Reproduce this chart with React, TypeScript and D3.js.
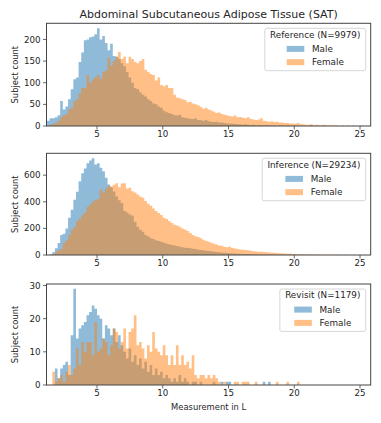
import React from "react";
import * as d3 from "d3";

// Histogram bins: left edge of bin i = BIN_START + i * BIN_WIDTH (litres)
const BIN_START = 1.2;
const BIN_WIDTH = 0.2;

const refMale = [
  12, 18, 18, 20, 25, 58, 38, 45, 62, 85,
  108, 112, 148, 170, 198, 200, 205, 207, 212, 226,
  200, 208, 192, 175, 190, 162, 160, 155, 145, 138,
  125, 112, 100, 88, 85, 78, 72, 68, 62, 58,
  52, 50, 45, 42, 35, 32, 30, 28, 25, 24,
  26, 20, 19, 18, 17, 16, 18, 14, 13, 12,
  14, 11, 10, 9, 10, 8, 8, 7, 6, 6,
  5, 5, 4, 4, 3, 4, 3, 2, 3, 2,
  2, 2, 1, 2, 1, 1, 1, 0, 1, 1,
  0, 1, 0, 0, 1, 0, 0, 0, 0, 0,
  1, 0, 0, 0, 0, 0, 0, 0, 0, 0,
  0, 0, 0, 0, 0, 0, 0, 0, 0, 0,
];
const refFemale = [
  0, 3, 5, 7, 12, 20, 25, 28, 38, 42,
  58, 62, 75, 88, 88, 118, 100, 108, 112, 118,
  110, 125, 128, 157, 140, 150, 160, 171, 155, 160,
  145, 160, 155, 148, 145, 150, 155, 130, 125, 120,
  118, 105, 112, 95, 92, 95, 88, 88, 72, 66,
  64, 62, 60, 55, 56, 52, 50, 48, 44, 40,
  42, 38, 36, 33, 30, 31, 28, 26, 25, 23,
  22, 24, 20, 21, 19, 18, 20, 16, 15, 14,
  15, 18, 12, 11, 10, 11, 9, 10, 8, 8,
  7, 7, 6, 6, 5, 7, 4, 4, 3, 3,
  4, 2, 3, 2, 2, 3, 1, 2, 1, 1,
  1, 0, 1, 0, 1, 0, 1, 0, 0, 1,
];
const infMale = [
  0, 5, 20, 50, 90, 150, 160, 200, 280, 340,
  415, 475, 555, 615, 650, 690, 710, 728, 680, 690,
  655, 630, 580, 530, 510, 477, 440, 412, 390, 330,
  320, 305, 295, 250, 212, 190, 175, 150, 140, 125,
  120, 110, 105, 100, 92, 85, 80, 75, 72, 68,
  62, 58, 55, 52, 50, 47, 45, 40, 37, 35,
  32, 30, 28, 25, 22, 20, 18, 17, 15, 14,
  12, 11, 10, 9, 8, 7, 7, 6, 5, 5,
  4, 4, 3, 3, 3, 2, 2, 2, 1, 1,
  1, 1, 1, 0, 1, 0, 1, 0, 0, 0,
  0, 0, 0, 0, 0, 0, 0, 0, 0, 0,
  0, 0, 0, 0, 0, 0, 0, 0, 0, 0,
];
const infFemale = [
  0, 2, 8, 20, 35, 45, 90, 110, 150, 190,
  210, 255, 270, 300, 320, 360, 380, 400, 415, 420,
  490, 470, 500, 520, 515, 528, 540, 510, 538, 540,
  500, 505, 480, 470, 455, 440, 430, 405, 385, 370,
  350, 330, 315, 300, 280, 270, 255, 240, 228, 222,
  212, 200, 192, 180, 165, 150, 140, 135, 125, 115,
  105, 100, 92, 85, 78, 72, 70, 60, 58, 62,
  52, 48, 45, 42, 40, 37, 35, 32, 28, 27,
  25, 24, 22, 20, 18, 17, 16, 14, 13, 12,
  11, 10, 9, 8, 7, 6, 6, 5, 4, 4,
  3, 3, 3, 2, 2, 2, 2, 1, 1, 1,
  1, 1, 0, 1, 0, 0, 0, 0, 0, 0,
];
const revMale = [
  0, 0, 0, 5, 2, 5, 6, 7, 3, 15,
  29, 14, 17, 18, 19, 21, 22, 24, 23, 21,
  20, 14, 18, 17, 15, 17, 13, 15, 12, 10,
  8, 11, 7, 9, 6, 8, 5, 7, 4, 6,
  3, 5, 3, 4, 2, 3, 2, 1, 2, 1,
  3, 1, 2, 1, 0, 1, 1, 0, 1, 0,
  0, 0, 0, 1, 0, 0, 1, 0, 1, 1,
  0, 0, 0, 0, 0, 0, 0, 0, 0, 0,
  0, 0, 1, 0, 1, 0, 0, 0, 0, 0,
  0, 0, 0, 0, 0, 0, 0, 0, 0, 0,
  0, 0, 0, 0, 0, 0, 0, 0, 0, 0,
  0, 0, 0, 0, 0, 0, 0, 0, 0, 0,
];
const revFemale = [
  0, 0, 4, 1, 2, 3, 1, 4, 6, 3,
  5, 11, 6, 13, 10, 13, 13, 9, 19, 10,
  11, 14, 13, 9, 12, 17, 16, 11, 13, 17,
  11, 16, 17, 21, 12, 13, 11, 8, 12, 10,
  16, 11, 10, 9, 12, 9, 6, 9, 6, 12,
  6, 9, 6, 7, 5, 9, 3, 2, 3, 3,
  2, 3, 2, 3, 2, 1, 0, 1, 0, 0,
  0, 1, 1, 0, 1, 1, 1, 0, 0, 1,
  0, 0, 0, 0, 0, 0, 0, 1, 0, 0,
  0, 1, 0, 0, 0, 1, 0, 0, 0, 0,
  0, 0, 0, 0, 0, 0, 0, 0, 0, 0,
  0, 0, 0, 0, 0, 0, 0, 0, 0, 0,
];

const xTicks = [5, 10, 15, 20, 25];
const refTicks = [0, 50, 100, 150, 200];
const infTicks = [0, 200, 400, 600];
const revTicks = [0, 10, 20, 30];
const legendTitles = ["Reference (N=9979)", "Inference (N=29234)", "Revisit (N=1179)"];
const seriesNames = ["Male", "Female"];
const chartTitle = "Abdominal Subcutaneous Adipose Tissue (SAT)";
const xLabel = "Measurement in L";
const yLabel = "Subject count";

const W = 381;
const H = 423;
const LEFT = 46.5;
const RIGHT = 370.7;
const FONT = "DejaVu Sans";
const TEXT = "#262626";
const SPINE = "#444";
const BLUE = "#1f77b4";
const ORANGE = "#ff7f0e";

const panels = [
  { male: refMale, female: refFemale, ticks: refTicks, legend: legendTitles[0], top: 23.3, bottom: 126 },
  { male: infMale, female: infFemale, ticks: infTicks, legend: legendTitles[1], top: 153.3, bottom: 255 },
  { male: revMale, female: revFemale, ticks: revTicks, legend: legendTitles[2], top: 284, bottom: 385 },
];

let ctx: CanvasRenderingContext2D | null = null;
function measure(text: string, size: number): number {
  if (!ctx) ctx = document.createElement("canvas").getContext("2d");
  if (!ctx) return text.length * size * 0.6;
  ctx.font = `${size}px "${FONT}"`;
  return ctx.measureText(text).width;
}

const x = d3.scaleLinear().domain([1.16, 25.81]).range([LEFT, RIGHT]);

function histPath(values: number[], y: d3.ScaleLinear<number, number>) {
  const pts: [number, number][] = [];
  values.forEach((v, i) => {
    pts.push([BIN_START + i * BIN_WIDTH, v]);
    pts.push([BIN_START + (i + 1) * BIN_WIDTH, v]);
  });
  return d3
    .area<[number, number]>()
    .x((d) => x(d[0]))
    .y0(y(0))
    .y1((d) => y(d[1]))(pts) as string;
}

function Panel({ p, idx, last }: { p: (typeof panels)[number]; idx: number; last: boolean }) {
  const ymax = (d3.max([...p.male, ...p.female]) as number) * 1.05;
  const y = d3.scaleLinear().domain([0, ymax]).range([p.bottom, p.top]);
  const clipId = `clip${idx}`;
  const legFont = 8.8;
  const titleW = measure(p.legend, legFont);
  const boxW = titleW + 10.6;
  const boxX = RIGHT - 5 - boxW;
  const boxY = p.top + 5;
  const handleW = 17.6 + 7.7 + measure(seriesNames[1], legFont);
  const handleX = boxX + boxW / 2 - handleW / 2;
  return (
    <g>
      <defs>
        <clipPath id={clipId}>
          <rect x={LEFT} y={p.top} width={RIGHT - LEFT} height={p.bottom - p.top} />
        </clipPath>
      </defs>
      <g clipPath={`url(#${clipId})`}>
        <path d={histPath(p.male, y)} fill={BLUE} fillOpacity={0.5} />
        <path d={histPath(p.female, y)} fill={ORANGE} fillOpacity={0.5} />
      </g>
      <rect x={LEFT} y={p.top} width={RIGHT - LEFT} height={p.bottom - p.top} fill="none" stroke={SPINE} strokeWidth={1} />
      {xTicks.map((t) => (
        <g key={t}>
          <line x1={x(t)} x2={x(t)} y1={p.bottom} y2={p.bottom + 3.5} stroke={SPINE} strokeWidth={0.8} />
          <text x={x(t)} y={p.bottom + 11.2} textAnchor="middle" fontSize={8.7} fill={TEXT} fontFamily={FONT}>
            {t}
          </text>
        </g>
      ))}
      {p.ticks.map((t) => (
        <g key={t}>
          <line x1={LEFT - 3.5} x2={LEFT} y1={y(t)} y2={y(t)} stroke={SPINE} strokeWidth={0.8} />
          <text x={LEFT - 6} y={y(t) + 3.1} textAnchor="end" fontSize={8.7} fill={TEXT} fontFamily={FONT}>
            {t}
          </text>
        </g>
      ))}
      <text
        transform={`translate(${14.5},${(p.top + p.bottom) / 2}) rotate(-90)`}
        textAnchor="middle"
        dominantBaseline="central"
        fontSize={8.4}
        fill={TEXT}
        fontFamily={FONT}
      >
        {yLabel}
      </text>
      <g>
        <rect x={boxX} y={boxY} width={boxW} height={42.4} rx={2} fill="#fff" fillOpacity={0.8} stroke="#cccccc" strokeWidth={0.8} />
        <text x={boxX + boxW / 2} y={boxY + 9.4} textAnchor="middle" fontSize={legFont} fill={TEXT} fontFamily={FONT}>
          {p.legend}
        </text>
        {seriesNames.map((name, k) => (
          <g key={name}>
            <rect
              x={handleX}
              y={boxY + 17.6 + k * 13.3}
              width={17.6}
              height={6}
              fill={k === 0 ? BLUE : ORANGE}
              fillOpacity={0.5}
            />
            <text x={handleX + 25.3} y={boxY + 23.5 + k * 13.3} fontSize={legFont} fill={TEXT} fontFamily={FONT}>
              {name}
            </text>
          </g>
        ))}
      </g>
      {last && (
        <text x={(LEFT + RIGHT) / 2} y={409.5} textAnchor="middle" fontSize={8.4} fill={TEXT} fontFamily={FONT}>
          {xLabel}
        </text>
      )}
    </g>
  );
}

export default function App() {
  return (
    <svg
      width={W}
      height={H}
      viewBox={`0 0 ${W} ${H}`}
      style={{ position: "absolute", left: 0, top: 0, background: "#fff" }}
    >
      <rect width={W} height={H} fill="#fff" />
      <text x={(LEFT + RIGHT) / 2} y={18.2} textAnchor="middle" fontSize={11} fill={TEXT} fontFamily={FONT}>
        {chartTitle}
      </text>
      {panels.map((p, i) => (
        <Panel key={i} p={p} idx={i} last={i === panels.length - 1} />
      ))}
    </svg>
  );
}
